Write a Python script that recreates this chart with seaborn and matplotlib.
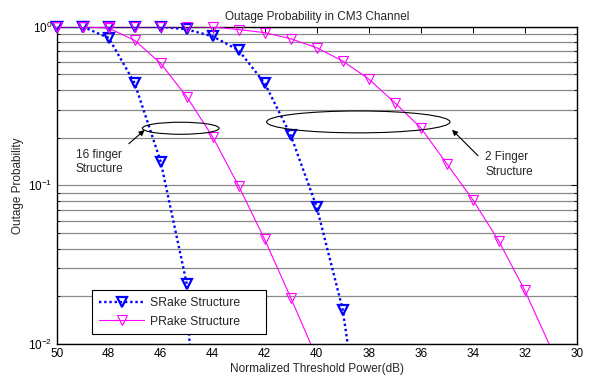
import numpy as np
import pandas as pd
import seaborn as sns
import matplotlib
matplotlib.use("Agg")
import matplotlib.pyplot as plt
from matplotlib.patches import Ellipse
from matplotlib.lines import Line2D
from matplotlib.ticker import LogLocator, FixedLocator, NullFormatter

# ---- data ----
srake16_x = [50, 49, 48, 47, 46, 45, 44]
srake16_y = [1.0, 1.0, 0.85, 0.44, 0.141, 0.024, 1e-5]

srake2_x = [50, 49, 48, 47, 46, 45, 44, 43, 42, 41, 40, 39, 38]
srake2_y = [1.0, 1.0, 1.0, 1.0, 1.0, 0.962, 0.87, 0.71, 0.44, 0.207, 0.073, 0.0165, 0.0012]

prake16_x = [50, 49, 48, 47, 46, 45, 44, 43, 42, 41, 40]
prake16_y = [1.0, 1.0, 0.98, 0.82, 0.587, 0.362, 0.202, 0.099, 0.0456, 0.0196, 0.0082]

prake2_x = [50, 49, 48, 47, 46, 45, 44, 43, 42, 41, 40, 39, 38, 37, 36, 35, 34, 33, 32, 31]
prake2_y = [1.0, 1.0, 1.0, 1.0, 1.0, 1.0, 0.995, 0.96, 0.917, 0.84, 0.737, 0.608, 0.468,
            0.332, 0.231, 0.137, 0.0814, 0.0447, 0.0218, 0.0095]

x_ticks = [50, 48, 46, 44, 42, 40, 38, 36, 34, 32, 30]
title = "Outage Probability in CM3 Channel"
xlabel = "Normalized Threshold Power(dB)"
ylabel = "Outage Probability"
legend_labels = ["SRake Structure", "PRake Structure"]

sns.set_theme(style="white")
plt.rcParams["font.family"] = ["Liberation Sans", "DejaVu Sans"]
plt.rcParams["mathtext.default"] = "regular"
plt.rcParams["font.size"] = 8.5

FS = 8.5

fig = plt.figure(figsize=(5.9, 3.78), dpi=100)
ax = fig.add_axes([0.0961, 0.0899, 0.8814, 0.8394])

BLUE = (0, 0, 1)
MAG = (1, 0, 1)
YMIN, YMAX = 0.01, 1.0

series = [
    (srake16_x, srake16_y, BLUE, (0, (1, 1.2)), 1.7, 1.6),
    (srake2_x, srake2_y, BLUE, (0, (1, 1.2)), 1.7, 1.6),
    (prake16_x, prake16_y, MAG, "-", 0.8, 0.8),
    (prake2_x, prake2_y, MAG, "-", 0.8, 0.8),
]

for xs, ys, col, ls, lw, mew in series:
    df = pd.DataFrame({"x": xs, "y": ys})
    sns.lineplot(data=df, x="x", y="y", ax=ax, color=col, linestyle=ls, linewidth=lw,
                 sort=False, estimator=None, legend=False, zorder=3)
    dm = df[(df["y"] >= YMIN) & (df["y"] <= YMAX)]
    ax.plot(dm["x"], dm["y"], linestyle="none", marker="v", markersize=7,
            markerfacecolor="none", markeredgecolor=col, markeredgewidth=mew,
            clip_on=False, zorder=4)

ax.set_yscale("log")
ax.set_xlim(50, 30)
ax.set_ylim(YMIN, YMAX)
ax.xaxis.set_major_locator(FixedLocator(x_ticks))
ax.set_xticklabels([str(t) for t in x_ticks])
ax.yaxis.set_minor_locator(LogLocator(base=10, subs=np.arange(2, 10), numticks=20))
ax.yaxis.set_minor_formatter(NullFormatter())
ax.set_yticks([0.01, 0.1, 1.0])
ax.set_yticklabels([r"$10^{-2}$", r"$10^{-1}$", r"$10^{0}$"])

ax.yaxis.grid(True, which="both", color="#8a8a8a", linewidth=0.9, linestyle="-", zorder=0)
ax.xaxis.grid(False)
ax.set_axisbelow(True)

ax.tick_params(axis="both", which="both", direction="in", top=True, right=True,
               labelsize=FS, colors="black", pad=3)
ax.tick_params(axis="both", which="major", length=4, width=0.7)
ax.tick_params(axis="y", which="minor", length=2.5, width=0.6, left=True, right=True)
for s in ax.spines.values():
    s.set_color("black")
    s.set_linewidth(1.0)

ax.set_title(title, fontsize=FS, pad=5)
ax.set_xlabel(xlabel, fontsize=FS, labelpad=2)
ax.set_ylabel(ylabel, fontsize=FS, labelpad=3)

# annotations (axes-fraction coordinates)
ax.add_patch(Ellipse((0.2385, 0.680), 0.1475, 0.038, transform=ax.transAxes,
                     fill=False, edgecolor="black", linewidth=0.8, zorder=5))
ax.add_patch(Ellipse((0.580, 0.700), 0.3525, 0.069, transform=ax.transAxes,
                     fill=False, edgecolor="black", linewidth=0.8, zorder=5))
ax.annotate("", xy=(0.1731, 0.680), xytext=(0.1346, 0.6255), xycoords="axes fraction",
            arrowprops=dict(arrowstyle="-|>", color="black", lw=0.8, mutation_scale=8))
ax.annotate("", xy=(0.7564, 0.6815), xytext=(0.8141, 0.587), xycoords="axes fraction",
            arrowprops=dict(arrowstyle="-|>", color="black", lw=0.8, mutation_scale=8))
ax.text(0.0365, 0.574, "16 finger\nStructure", transform=ax.transAxes, fontsize=FS,
        va="center", ha="left", linespacing=1.3)
ax.text(0.8237, 0.565, "2 Finger\nStructure", transform=ax.transAxes, fontsize=FS,
        va="center", ha="left", linespacing=1.3)

handles = [
    Line2D([], [], color=BLUE, linestyle=(0, (1, 1.2)), linewidth=1.7, marker="v", markersize=7,
           markerfacecolor="none", markeredgecolor=BLUE, markeredgewidth=1.6),
    Line2D([], [], color=MAG, linestyle="-", linewidth=0.8, marker="v", markersize=7,
           markerfacecolor="none", markeredgecolor=MAG, markeredgewidth=0.8),
]
leg = ax.legend(handles, legend_labels, loc="lower left",
                bbox_to_anchor=(0.0685, 0.0306, 0.3335, 0.14), mode="expand",
                fontsize=8.8, frameon=True, fancybox=False, edgecolor="black",
                framealpha=1, handlelength=3.7, handletextpad=0.5, borderpad=0.55,
                labelspacing=0.55, borderaxespad=0)
leg.get_frame().set_linewidth(0.8)
leg.set_zorder(6)

fig.savefig("out.png", dpi=100)
